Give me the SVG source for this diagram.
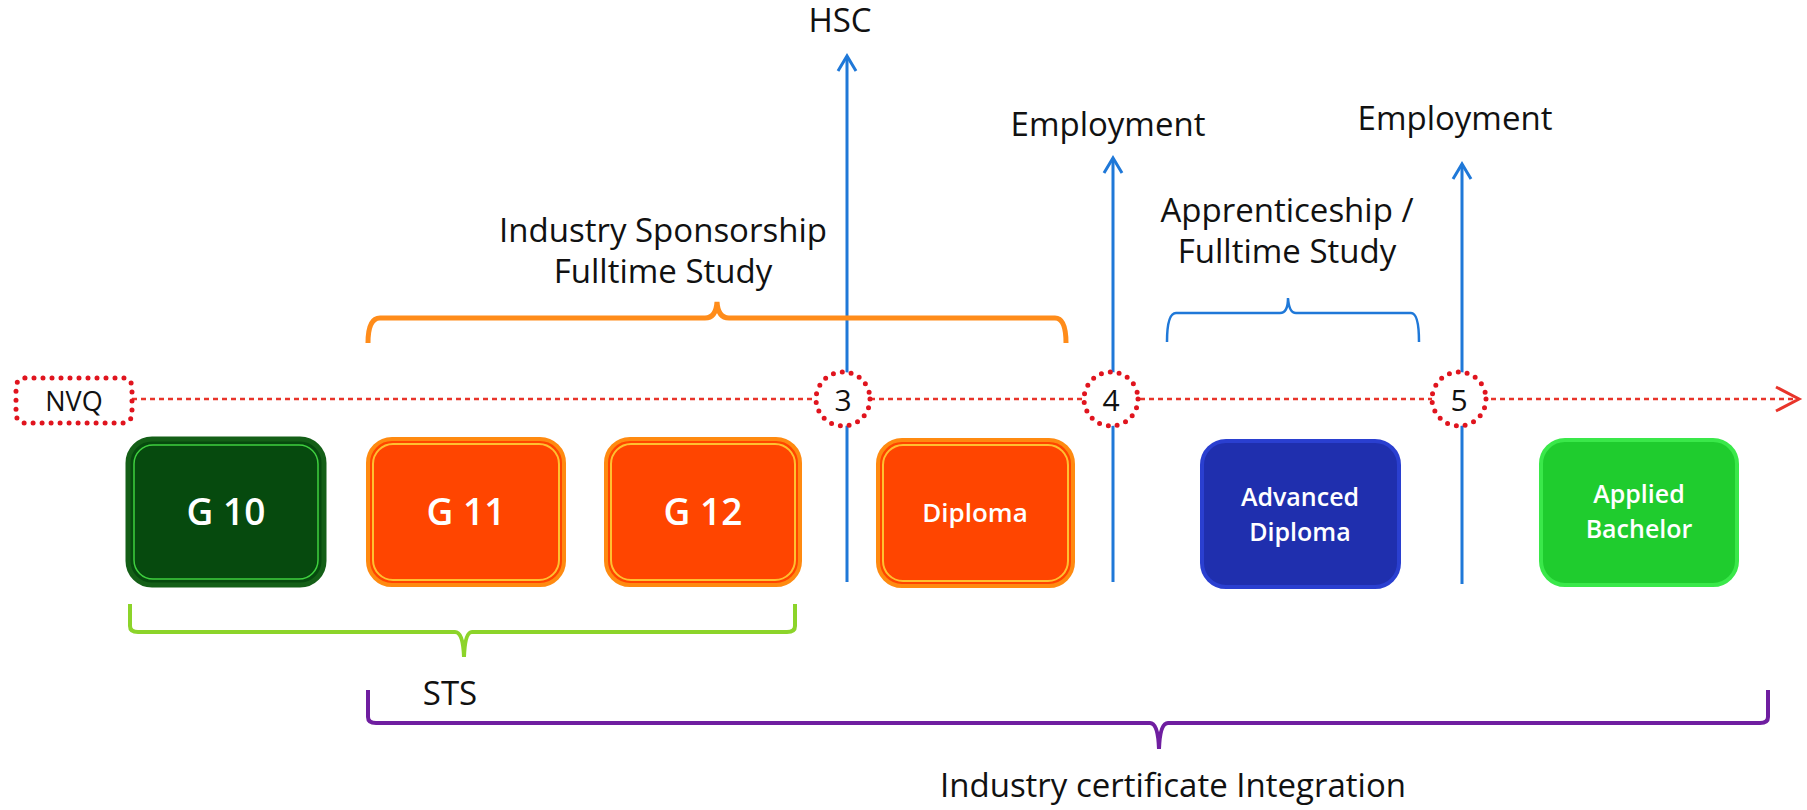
<svg xmlns="http://www.w3.org/2000/svg" width="1807" height="810" viewBox="0 0 1807 810">
<defs>
<style>
.lbl{font-family:"Open Sans","Liberation Sans",sans-serif;font-size:33px;fill:#111;text-anchor:middle}
.num{font-family:"Open Sans","Liberation Sans",sans-serif;font-size:30px;fill:#111;text-anchor:middle}
.nt{font-family:"Open Sans","Liberation Sans",sans-serif;font-weight:600;fill:#fff;text-anchor:middle}
.dot{fill:#fff;stroke:#e0141e;stroke-width:5;stroke-dasharray:0 9;stroke-linecap:round}
.blue{stroke:#1f78d8;stroke-width:3;fill:none}
.org{fill:#ff4500;stroke:#ff8a10;stroke-width:4}
.orgin{fill:none;stroke:#ffc030;stroke-width:2}
</style>
</defs>
<rect width="1807" height="810" fill="#fff"/>
<g id="connectors">
<line x1="132" y1="399" x2="1798" y2="399" stroke="#e8342a" stroke-width="2.5" stroke-dasharray="5 4"/>
<polyline points="1776,387 1799,399 1776,411" fill="none" stroke="#e8342a" stroke-width="3"/>
<line class="blue" x1="847" y1="56" x2="847" y2="582"/>
<polyline class="blue" points="838,71 847,56 856,71"/>
<line class="blue" x1="1113" y1="158" x2="1113" y2="582"/>
<polyline class="blue" points="1104,173 1113,158 1122,173"/>
<line class="blue" x1="1462" y1="164" x2="1462" y2="584"/>
<polyline class="blue" points="1453,179 1462,164 1471,179"/>
<path d="M368,343 Q368,318 380,318 L705,318 Q716,318 717,302 Q718,318 729,318 L1055,318 Q1066,318 1066,343" fill="none" stroke="#ff8c1a" stroke-width="5"/>
<path d="M1167,342 Q1167,313 1176,313 L1280,313 Q1288,313 1288,298 Q1289,313 1296,313 L1411,313 Q1419,313 1419,342" fill="none" stroke="#1f78d8" stroke-width="2.5"/>
<path d="M130,604 L130,626 Q130,632 138,632 L455,632 Q463,632 464,657 Q465,632 472,632 L787,632 Q795,632 795,626 L795,604" fill="none" stroke="#8cd42a" stroke-width="4"/>
<path d="M368,690 L368,717 Q368,723 376,723 L1150,723 Q1158,723 1159,749 Q1160,723 1168,723 L1760,723 Q1768,723 1768,717 L1768,690" fill="none" stroke="#6f1ea0" stroke-width="4"/>
</g>
<g id="nvq">
<rect class="dot" x="16" y="378" width="116" height="45" rx="9"/>
<text class="num" x="74" y="411" style="font-size:27px">NVQ</text>
</g>
<g id="c3"><circle class="dot" cx="843" cy="399" r="27"/><text class="num" x="843" y="411">3</text></g>
<g id="c4"><circle class="dot" cx="1111" cy="399" r="27"/><text class="num" x="1111" y="411">4</text></g>
<g id="c5"><circle class="dot" cx="1459" cy="399" r="27"/><text class="num" x="1459" y="411">5</text></g>
<g id="g10">
<rect x="128" y="439" width="196" height="146" rx="24" fill="#064a0e" stroke="#145f17" stroke-width="5"/>
<rect x="134" y="445" width="184" height="134" rx="19" fill="none" stroke="#3fcf3f" stroke-width="1.5"/>
<text class="nt" x="226" y="525" style="font-size:37px">G 10</text>
</g>
<g id="g11">
<rect class="org" x="368" y="439" width="196" height="146" rx="24"/>
<rect class="orgin" x="373" y="444" width="186" height="136" rx="20"/>
<text class="nt" x="466" y="525" style="font-size:37px">G 11</text>
</g>
<g id="g12">
<rect class="org" x="606" y="439" width="194" height="146" rx="24"/>
<rect class="orgin" x="611" y="444" width="184" height="136" rx="20"/>
<text class="nt" x="703" y="525" style="font-size:37px">G 12</text>
</g>
<g id="diploma">
<rect class="org" x="878" y="440" width="195" height="146" rx="24"/>
<rect class="orgin" x="883" y="445" width="185" height="136" rx="20"/>
<text class="nt" x="975" y="522" style="font-size:26px">Diploma</text>
</g>
<g id="advdiploma">
<rect x="1202" y="441" width="197" height="146" rx="24" fill="#1f2fae" stroke="#2a3fd0" stroke-width="4"/>
<text class="nt" x="1300" y="506" style="font-size:25px">Advanced</text>
<text class="nt" x="1300" y="541" style="font-size:25px">Diploma</text>
</g>
<g id="bachelor">
<rect x="1541" y="440" width="196" height="145" rx="24" fill="#1fcc2e" stroke="#3ae84a" stroke-width="4"/>
<text class="nt" x="1639" y="503" style="font-size:25px">Applied</text>
<text class="nt" x="1639" y="538" style="font-size:25px">Bachelor</text>
</g>
<g id="labels">
<text class="lbl" x="840" y="32">HSC</text>
<text class="lbl" x="1108" y="136">Employment</text>
<text class="lbl" x="1455" y="130">Employment</text>
<text class="lbl" x="663" y="242">Industry Sponsorship</text>
<text class="lbl" x="663" y="283">Fulltime Study</text>
<text class="lbl" x="1287" y="222">Apprenticeship /</text>
<text class="lbl" x="1287" y="263">Fulltime Study</text>
<text class="lbl" x="450" y="705">STS</text>
<text class="lbl" x="1173" y="797">Industry certificate Integration</text>
</g>
</svg>
